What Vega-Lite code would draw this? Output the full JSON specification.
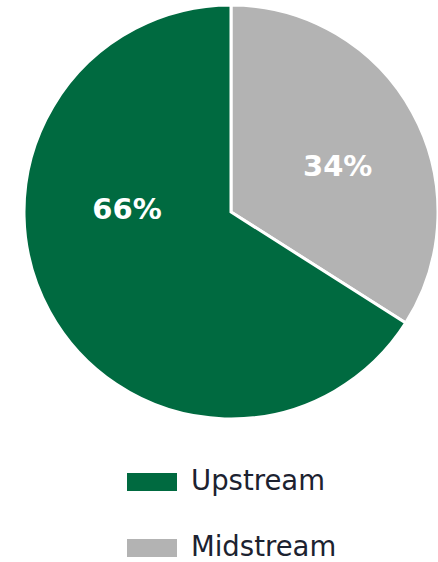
{
  "$schema": "https://vega.github.io/schema/vega-lite/v6.json",
  "width": 414,
  "height": 424,
  "padding": {"left": 24, "top": 0, "right": 0, "bottom": 138},
  "autosize": "none",
  "background": "white",
  "view": {"stroke": null},
  "data": {"values": [
    {"segment": "Midstream", "share": 34, "label": "34%", "ord": 1},
    {"segment": "Upstream", "share": 66, "label": "66%", "ord": 2}
  ]},
  "encoding": {
    "theta": {"field": "share", "type": "quantitative", "stack": true},
    "order": {"field": "ord", "type": "quantitative"}
  },
  "layer": [
    {
      "mark": {"type": "arc", "outerRadius": 207, "stroke": "white", "strokeWidth": 3},
      "encoding": {
        "color": {
          "field": "segment", "type": "nominal",
          "scale": {"domain": ["Upstream", "Midstream"], "range": ["#006a40", "#b3b3b3"]},
          "legend": {
            "title": null,
            "orient": "none",
            "legendX": 103,
            "legendY": 457,
            "direction": "vertical",
            "padding": 0,
            "symbolType": "M-1,-0.36H1V0.36H-1Z",
            "symbolSize": 2500,
            "symbolStrokeWidth": 0,
            "rowPadding": 27,
            "labelOffset": 14,
            "labelFont": "DejaVu Sans",
            "labelFontSize": 27.5,
            "labelColor": "#1c2230",
            "labelLimit": 400
          }
        }
      }
    },
    {
      "transform": [{"filter": "datum.segment === 'Midstream'"}],
      "mark": {"type": "text", "radius": 116, "dx": 5, "dy": 11, "font": "DejaVu Sans", "fontSize": 29, "fontWeight": "bold", "fill": "white", "align": "center", "baseline": "middle"},
      "encoding": {"text": {"field": "label"}}
    },
    {
      "transform": [{"filter": "datum.segment === 'Upstream'"}],
      "mark": {"type": "text", "radius": 0, "dx": -104, "dy": -2, "font": "DejaVu Sans", "fontSize": 29, "fontWeight": "bold", "fill": "white", "align": "center", "baseline": "middle"},
      "encoding": {"text": {"field": "label"}}
    }
  ]
}
